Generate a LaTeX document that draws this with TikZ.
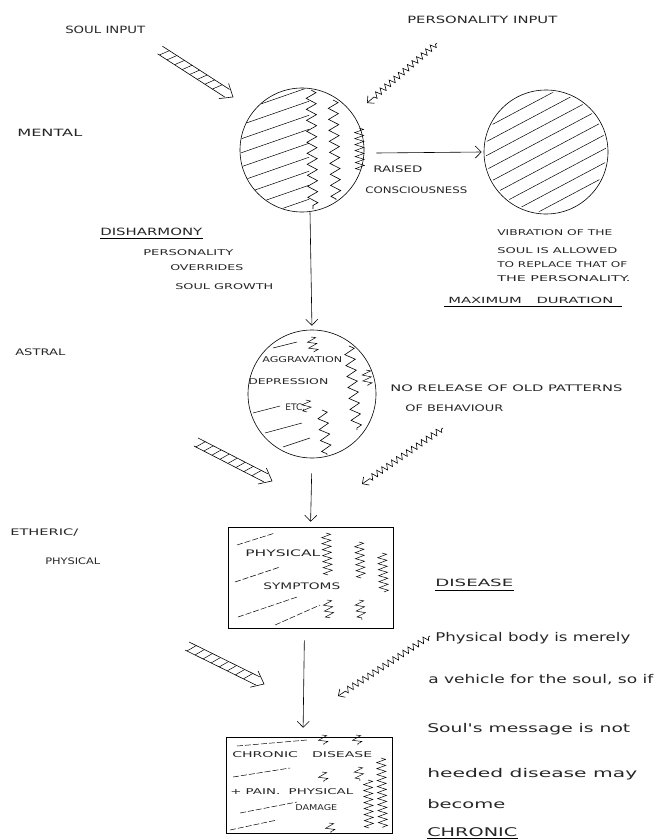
\documentclass[tikz,border=0pt]{standalone}
\usepackage{fontspec}
\usepackage{graphicx}
\usetikzlibrary{arrows.meta,decorations.pathmorphing,decorations.markings,calc}
\newfontfamily\hand{DejaVu Sans}
\newcommand\fw[3]{{\fontsize{#1}{#1}\selectfont\resizebox{#2pt}{\height}{#3}}}
\begin{document}
\begin{tikzpicture}[x=1pt,y=-1pt,line width=0.6pt,font=\hand,
  lbl/.style={anchor=west,inner sep=0pt,text=black!85},
  blbl/.style={anchor=base west,inner sep=0pt,text=black!85},
  arr/.style={-{Straight Barb[length=6pt,width=12pt]}},
  zz/.style={decorate,decoration={zigzag,segment length=6pt,amplitude=3pt,pre length=2pt,post length=8pt},-{Straight Barb[length=5pt,width=10pt]}},
  wave/.style={decorate,decoration={zigzag,segment length=11pt,amplitude=5pt}},
  zmark/.style={decorate,decoration={zigzag,segment length=6pt,amplitude=4.5pt},line width=0.5pt},
  hstroke/.style={line width=0.5pt},
  dstroke/.style={line width=0.5pt,dash pattern=on 6pt off 2pt},
  hatcharrow/.style={decorate,decoration={markings,
    mark=at position 0 with {
      \draw (0pt,4.5pt) -- (\pgfdecoratedpathlength-7pt,4.5pt);
      \draw (0pt,-4.5pt) -- (\pgfdecoratedpathlength-7pt,-4.5pt);
      \draw (\pgfdecoratedpathlength-11pt,9pt) -- (\pgfdecoratedpathlength,0pt) -- (\pgfdecoratedpathlength-11pt,-9pt);
    },
    mark=between positions 0.06 and 0.8 step 9pt with {\draw[line width=0.5pt] (-3pt,-4.5pt) -- (3pt,4.5pt);}
  }}
]
\useasboundingbox (0,0) rectangle (668,840);

% ---------- main shapes ----------
\node[circle,draw,minimum size=124pt,inner sep=0pt] (c1) at (302,150) {};
\node[circle,draw,minimum size=124pt,inner sep=0pt] (c2) at (546,152) {};
\node[circle,draw,minimum size=128pt,inner sep=0pt] (c3) at (312,394) {};
\node[draw,minimum width=165pt,minimum height=101pt,inner sep=0pt] (r1) at (310.5,577.5) {};
\node[draw,minimum width=166pt,minimum height=96pt,inner sep=0pt] (r2) at (309,785) {};

% ---------- circle 1 interior ----------
\begin{scope}
  \clip (c1.center) circle (61.5pt);
  \clip (230,80) rectangle (309,220);
  \foreach \k in {0,...,10} \draw[hstroke] (232,100+\k*14) -- ++(95,-33);
\end{scope}
\draw[wave] (311,90) -- (313,209);
\draw[wave] (333,100) -- (336,200);
\draw[zmark] (359,128) -- (360,170);

% ---------- circle 2 interior ----------
\begin{scope}
  \clip (c2.center) circle (60pt);
  \foreach \k in {-5,...,5} \draw[hstroke] ($(c2.center)+(-80,\k*14+42.5)$) -- ++(160,-85);
\end{scope}

% ---------- circle 3 interior ----------
\draw[hstroke] (273,348) -- (297,342);
\draw[hstroke] (253,413) -- (280,406);
\draw[hstroke] (265,433) -- (302,423);
\draw[hstroke] (283,447) -- (310,438);
\draw[zmark] (311,337) -- (314,352);
\draw[wave] (349,346) -- (357,430);
\draw[wave] (322,410) -- (327,455);
\draw[zmark] (366,370) -- (368,386);
\draw[zmark] (306,400) -- (307,412);

% ---------- rectangle 1 interior ----------
\draw[dstroke] (237,545) -- (275,533);
\draw[dstroke] (235,582) -- (280,567);
\draw[dstroke] (238,617) -- (297,597);
\draw[dstroke] (275,625) -- (320,605);
\draw[zmark] (326,533) -- (328,575);
\draw[zmark] (359,542) -- (361,578);
\draw[zmark] (382,553) -- (384,592);
\draw[zmark] (327,600) -- (330,618);
\draw[zmark] (359,600) -- (362,620);

% ---------- rectangle 2 interior ----------
\draw[dstroke] (237,746) -- (307,740);
\draw[dstroke] (233,777) -- (290,768);
\draw[dstroke] (240,813) -- (297,802);
\draw[dstroke] (230,830) -- (277,820);
\draw[zmark] (381,758) -- (383,828);
\draw[zmark] (368,780) -- (369,828);
\draw[zmark] (322,735) -- (324,745);
\draw[zmark] (356,735) -- (358,745);
\draw[zmark] (322,772) -- (324,782);
\draw[zmark] (358,767) -- (360,781);
\draw[zmark] (329,823) -- (331,833);

% ---------- connectors ----------
\draw[arr] ([xshift=12pt,yshift=-3pt]c1.east) -- ([xshift=-2pt]c2.west);
\draw[arr,shorten >=4pt] ([xshift=8pt]c1.south) -- (c3.north);
\draw[arr,shorten <=15pt,shorten >=5pt] (c3.south) -- (r1.north);
\draw[arr,shorten <=12pt,shorten >=9pt] ([xshift=-6pt]r1.south) -- ([xshift=-6pt]r2.north);

\coordinate (h1s) at (160,50);  \coordinate (h1e) at (233,97);
\coordinate (h2s) at (196,442); \coordinate (h2e) at (272,481);
\coordinate (h3s) at (187,646); \coordinate (h3e) at (264,684);
\path[hatcharrow] (h1s) -- (h1e);
\path[hatcharrow] (h2s) -- (h2e);
\path[hatcharrow] (h3s) -- (h3e);

\coordinate (z1s) at (437,43);  \coordinate (z1e) at (367,103);
\coordinate (z2s) at (443,428); \coordinate (z2e) at (362,484);
\coordinate (z3s) at (430,636); \coordinate (z3e) at (338,696);
\draw[zz] (z1s) -- (z1e);
\draw[zz] (z2s) -- (z2e);
\draw[zz] (z3s) -- (z3e);

% ---------- texts ----------
\node[lbl] (tsoul) at (65,30) {\fw{10}{80}{SOUL INPUT}};
\node[lbl] (tpers) at (407,20) {\fw{10}{150}{PERSONALITY INPUT}};
\node[lbl] (tmental) at (17,133) {\fw{10}{65}{MENTAL}};
\node[lbl] (traised) at (373,169) {\fw{9}{49}{RAISED}};
\node[lbl] (tconsc) at (365,190) {\fw{9}{102}{CONSCIOUSNESS}};

\node[lbl] (tv1) at (497,233) {\fw{8}{115}{VIBRATION OF THE}};
\node[lbl] (tv2) at (497,251) {\fw{8}{120}{SOUL IS ALLOWED}};
\node[lbl] (tv3) at (497,265) {\fw{8}{130}{TO REPLACE THAT OF}};
\node[lbl] (tv4) at (497,279) {\fw{8}{133}{THE PERSONALITY.}};
\node[lbl] (tmax) at (448,300) {\fw{8.5}{165}{MAXIMUM\quad DURATION}};
\draw ([xshift=-4pt,yshift=-3pt]tmax.south west) -- ([xshift=8pt,yshift=-3pt]tmax.south east);

\node[lbl] (tdis) at (100,232) {\fw{10}{102}{DISHARMONY}};
\draw ([yshift=-2.5pt]tdis.south west) -- ([yshift=-2.5pt]tdis.south east);
\node[lbl] (tpo) at (143,253) {\fw{8}{90}{PERSONALITY}};
\node[lbl] (tov) at (170,268) {\fw{8}{73}{OVERRIDES}};
\node[lbl] (tsg) at (175,287) {\fw{8}{98}{SOUL GROWTH}};

\node[lbl] (tastral) at (15,352) {\fw{9}{50}{ASTRAL}};
\node[lbl] (tagg) at (262,360) {\fw{8}{80}{AGGRAVATION}};
\node[lbl] (tdep) at (248,382) {\fw{8}{80}{DEPRESSION}};
\node[lbl] (tetc) at (285,407) {\fw{9}{20}{ETC.}};
\node[lbl] (tno) at (390,388) {\fw{9}{232}{NO RELEASE OF OLD PATTERNS}};
\node[lbl] (tbeh) at (405,408) {\fw{9}{98}{OF BEHAVIOUR}};

\node[lbl] (teth) at (10,533) {\fw{9}{68}{ETHERIC/}};
\node[lbl] (tphy) at (45,561) {\fw{9}{55}{PHYSICAL}};
\node[lbl] (tps) at (245,553) {\fw{9}{75}{PHYSICAL}};
\node[lbl] (tsym) at (263,586) {\fw{9}{77}{SYMPTOMS}};
\node[lbl] (tdisease) at (435,583) {\fw{10}{78}{DISEASE}};
\draw ([yshift=-3pt]tdisease.south west) -- ([yshift=-3pt]tdisease.south east);

\node[lbl] (tcd) at (232,755) {\fw{8}{140}{CHRONIC\quad DISEASE}};
\node[lbl] (tpp) at (230,792) {\fw{8}{123}{+ PAIN.\ \ PHYSICAL}};
\node[lbl] (tdam) at (295,808) {\fw{8}{42}{DAMAGE}};

\node[blbl] (b1) at (435,641) {\fw{12}{195}{Physical body is merely}};
\node[blbl] (b2) at (428,683) {\fw{12}{225}{a vehicle for the soul, so if}};
\node[blbl] (b3) at (427,732) {\fw{12}{203}{Soul's message is not}};
\node[blbl] (b4) at (427,777) {\fw{12}{210}{heeded disease may}};
\node[blbl] (b5) at (427,808) {\fw{12}{78}{become}};
\node[blbl] (b6) at (427,836) {\fw{12}{90}{CHRONIC}};
\draw ([yshift=-2.5pt]b6.base west) -- ([yshift=-2.5pt]b6.base east);
\end{tikzpicture}
\end{document}
